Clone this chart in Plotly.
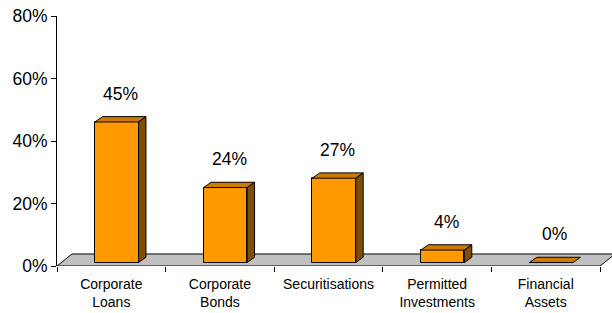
import plotly.graph_objects as go

categories = ["Corporate<br>Loans", "Corporate<br>Bonds", "Securitisations",
              "Permitted<br>Investments", "Financial<br>Assets"]
values = [45, 24, 27, 4, 0]
y_ticks = [0, 20, 40, 60, 80]
y_tick_labels = [f"{t}%" for t in y_ticks]

# layout geometry (pixels)
W, H = 612, 313
ML, MR, MT, MB = 57, 0, 16, 47
X_MIN, X_MAX = -0.5, 4.61
Y_MIN, Y_MAX = 0, 80
px_x = (W - ML - MR) / (X_MAX - X_MIN)
px_y = (H - MT - MB) / (Y_MAX - Y_MIN)

bar_w = 43.5 / px_x
shift = 5.5 / px_x
dx = 7.4 / px_x
dy = 5.3 / px_y
base = 1.1
floor_dx = 15 / px_x
floor_dy = 12 / px_y

FRONT = "#FF9900"
TOP = "#CC7A00"
SIDE = "#7F4C00"
FONT = "Liberation Sans, Arial, sans-serif"

xs = list(range(len(values)))
fig = go.Figure()

fig.add_trace(go.Bar(
    x=xs, y=values, base=base, width=bar_w, offset=shift - bar_w / 2,
    marker=dict(color=FRONT, line=dict(color="black", width=1)),
    hoverinfo="skip", showlegend=False))

for i, v in zip(xs, values):
    x0 = i + shift - bar_w / 2
    x1 = i + shift + bar_w / 2
    top = base + v
    # top cap
    fig.add_trace(go.Scatter(
        x=[x0, x0 + dx, x1 + dx, x1, x0],
        y=[top, top + dy, top + dy, top, top],
        mode="lines", fill="toself", fillcolor=TOP,
        line=dict(color="black", width=1), hoverinfo="skip", showlegend=False))
    # side
    if v > 0:
        fig.add_trace(go.Scatter(
            x=[x1, x1, x1 + dx, x1 + dx, x1],
            y=[base, top, top + dy, base + dy, base],
            mode="lines", fill="toself", fillcolor=SIDE,
            line=dict(color="black", width=1), hoverinfo="skip", showlegend=False))
    fig.add_annotation(
        x=i + shift + dx / 2, y=top + dy, text=f"{v}%", showarrow=False,
        yanchor="middle", xanchor="center", yshift=23,
        font=dict(family=FONT, size=17.5, color="black"))

# floor
fx0, fx1 = -0.5, 4.5
floor_path = (f"M {fx0},0 L {fx0 + floor_dx},{floor_dy} L {fx1 + floor_dx},{floor_dy} "
              f"L {fx1},0 Z")
fig.add_shape(type="path", path=floor_path, xref="x", yref="y", layer="below",
              fillcolor="#C0C0C0", line=dict(color="black", width=1))

fig.update_layout(
    width=W, height=H,
    margin=dict(l=ML, r=MR, t=MT, b=MB),
    plot_bgcolor="white", paper_bgcolor="white",
    bargap=0,
    xaxis=dict(range=[X_MIN, X_MAX], tickvals=xs, ticktext=categories,
               automargin=False, ticklabelstandoff=8,
               showgrid=False, zeroline=False, showline=False, ticks="",
               tickfont=dict(family=FONT, size=14, color="black"),
               minor=dict(tickvals=[k - 0.5 for k in range(len(values) + 1)],
                          ticks="outside", ticklen=5, tickcolor="black",
                          showgrid=False)),
    yaxis=dict(range=[Y_MIN, Y_MAX], tickvals=y_ticks, ticktext=y_tick_labels,
               automargin=False,
               showgrid=False, zeroline=False, showline=True, linecolor="black",
               linewidth=1, ticks="outside", ticklen=5, tickcolor="black",
               tickfont=dict(family=FONT, size=17.5, color="black")),
)

fig.write_html("out.html", config={"displayModeBar": False},
               post_script="document.body.style.margin='0';document.body.style.overflow='hidden';")
